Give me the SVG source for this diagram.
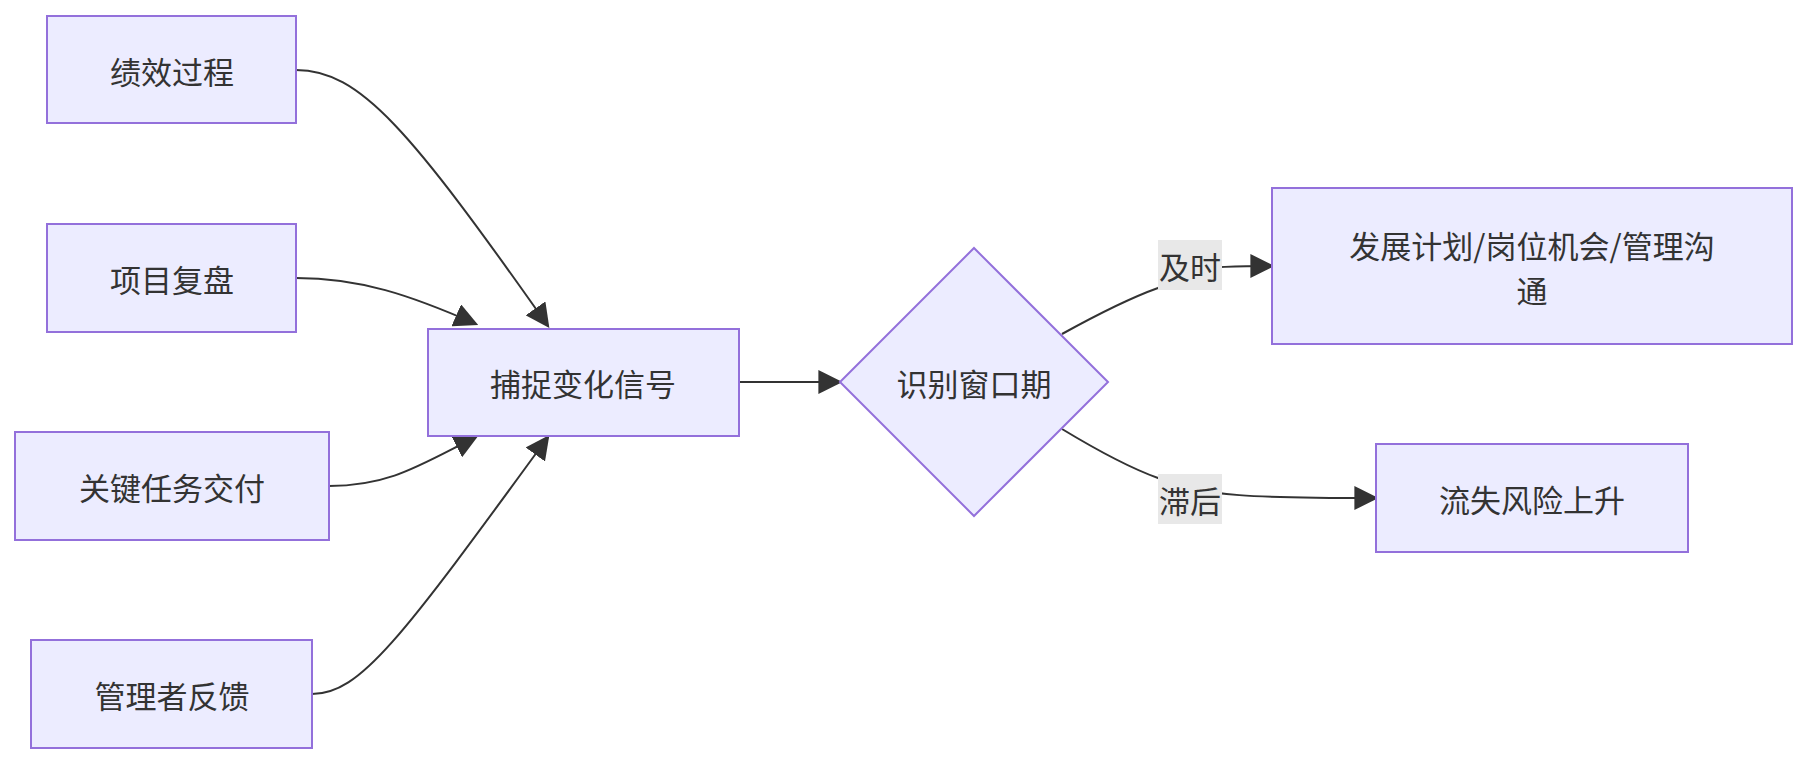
<svg xmlns="http://www.w3.org/2000/svg" width="1808" height="764" viewBox="0 0 1808 764">
<style>
.n{fill:#ECECFF;stroke:#9370DB;stroke-width:2}
.t{font-family:"Noto Sans CJK SC","Liberation Sans",sans-serif;font-size:31px;fill:#333;text-anchor:middle;dominant-baseline:central}
.e{fill:none;stroke:#333;stroke-width:2;marker-end:url(#a)}
.lb{fill:#e8e8e8}
</style>
<defs><marker id="a" viewBox="0 0 10 10" refX="9" refY="5" markerWidth="8" markerHeight="8" orient="auto" markerUnits="userSpaceOnUse"><path d="M0,0L10,5L0,10z" fill="#333"/></marker>
<marker id="a2" viewBox="0 0 10 10" refX="9" refY="5" markerWidth="12" markerHeight="12" orient="auto"><path d="M0,0L10,5L0,10z" fill="#333"/></marker></defs>
<style>.e{marker-end:url(#a2)}</style>
<g id="edges">
<path class="e" d="M296,70 C360,70 410,130 548,326"/>
<path class="e" d="M296,278 C360,278 410,295 476,324"/>
<path class="e" d="M329,486 C390,486 420,465 476,437"/>
<path class="e" d="M312,694 C360,694 400,640 548,437"/>
<path class="e" d="M739,382 L840,382"/>
<path class="e" d="M1062,334 C1100,313 1130,298 1158,288 C1180,268 1200,266 1272,266"/>
<path class="e" d="M1062,429 C1100,452 1130,468 1158,478 C1200,497 1260,498 1376,498"/>
</g>
<g id="l1"><rect class="lb" x="1158" y="240" width="64" height="50"/><text class="t" x="1190" y="265">及时</text></g>
<g id="l2"><rect class="lb" x="1158" y="474" width="64" height="50"/><text class="t" x="1190" y="499">滞后</text></g>
<g id="n1"><rect class="n" x="47" y="16" width="249" height="107"/><text class="t" x="172" y="70">绩效过程</text></g>
<g id="n2"><rect class="n" x="47" y="224" width="249" height="108"/><text class="t" x="172" y="278">项目复盘</text></g>
<g id="n3"><rect class="n" x="15" y="432" width="314" height="108"/><text class="t" x="172" y="486">关键任务交付</text></g>
<g id="n4"><rect class="n" x="31" y="640" width="281" height="108"/><text class="t" x="172" y="694">管理者反馈</text></g>
<g id="n5"><rect class="n" x="428" y="329" width="311" height="107"/><text class="t" x="583" y="382">捕捉变化信号</text></g>
<g id="n6"><polygon class="n" points="974,248 1108,382 974,516 840,382"/><text class="t" x="974" y="382">识别窗口期</text></g>
<g id="n7"><rect class="n" x="1272" y="188" width="520" height="156"/><text class="t" x="1532" y="244">发展计划/岗位机会/管理沟</text><text class="t" x="1532" y="289">通</text></g>
<g id="n8"><rect class="n" x="1376" y="444" width="312" height="108"/><text class="t" x="1532" y="498">流失风险上升</text></g>
</svg>
